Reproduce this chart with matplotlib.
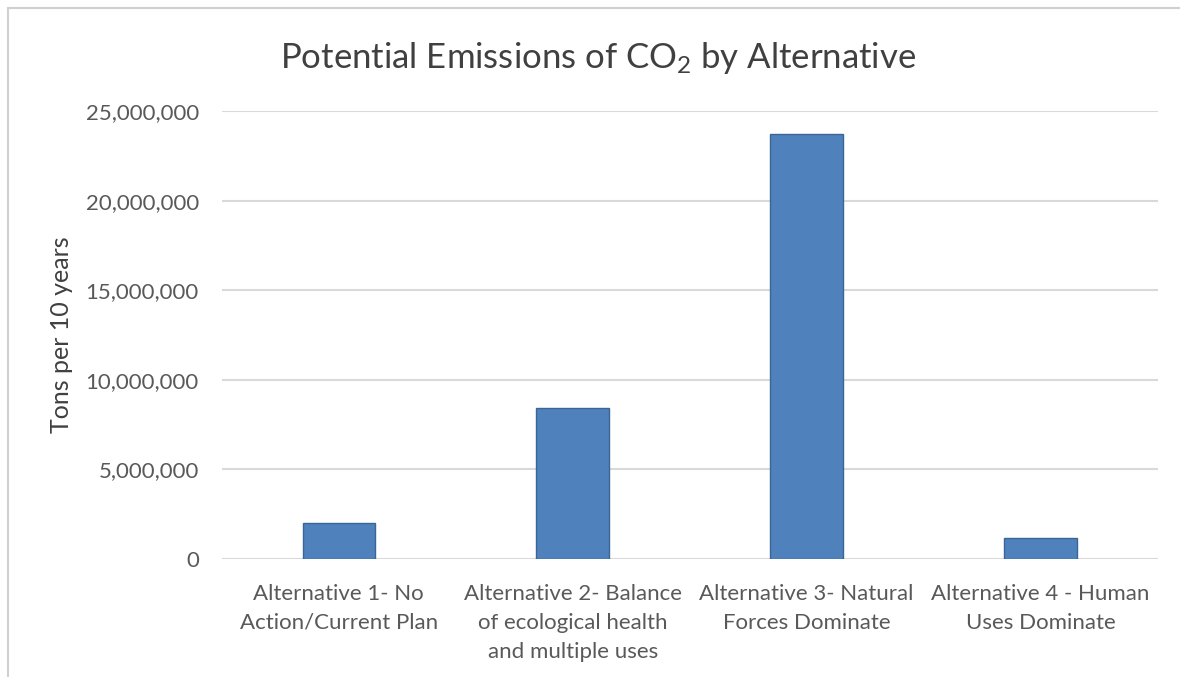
import matplotlib
matplotlib.use("Agg")
import matplotlib.pyplot as plt
from matplotlib.patches import Rectangle
from matplotlib.ticker import FuncFormatter

plt.rcParams['font.family'] = ['Lato', 'DejaVu Sans']
plt.rcParams['mathtext.fontset'] = 'custom'
plt.rcParams['mathtext.rm'] = 'Lato'
plt.rcParams['mathtext.it'] = 'Lato'

categories = [
    "Alternative 1- No\nAction/Current Plan",
    "Alternative 2- Balance\nof ecological health\nand multiple uses",
    "Alternative 3- Natural\nForces Dominate",
    "Alternative 4 - Human\nUses Dominate",
]
emissions = [2030000, 8410000, 23720000, 1190000]
yticks = [0, 5000000, 10000000, 15000000, 20000000, 25000000]

text_color = "#595959"

fig = plt.figure(figsize=(11.8, 6.77), dpi=100)
ax = fig.add_axes([0.188, 0.1743, 0.793, 0.6617])

x = range(len(categories))
ax.bar(x, emissions, width=0.31, color="#4F81BD", edgecolor="#3A6696",
       linewidth=1.0, zorder=3)

ax.set_xlim(-0.5, len(categories) - 0.5)
ax.set_ylim(0, 25000000)
ax.set_yticks(yticks)
ax.yaxis.set_major_formatter(FuncFormatter(lambda v, p: f"{int(v):,}"))
ax.set_xticks(list(x))
ax.set_xticklabels(categories, fontsize=16, color=text_color, linespacing=1.55)

ax.grid(axis="y", color="#D9D9D9", linewidth=1.5, zorder=0)
ax.tick_params(axis="both", length=0, labelcolor=text_color)
ax.tick_params(axis="y", pad=16.5, labelsize=16)
ax.tick_params(axis="x", pad=18)
for s in ax.spines.values():
    s.set_visible(False)

ax.set_ylabel("Tons per 10 years", fontsize=18, color="#404040")
ax.yaxis.set_label_coords(-0.159, 0.5)

fig.text(0.507, 0.915, r"Potential Emissions of CO$_2$ by Alternative",
         ha="center", va="center", fontsize=25, color="#404040")

# light frame around the chart area
fig.patches.append(Rectangle((8 / 1180, -0.1), 1.2, 1.1 - 8 / 677,
                             transform=fig.transFigure, fill=False,
                             edgecolor="#D0D0D0", linewidth=1.5))

fig.savefig("out.png", dpi=100, facecolor="white")
